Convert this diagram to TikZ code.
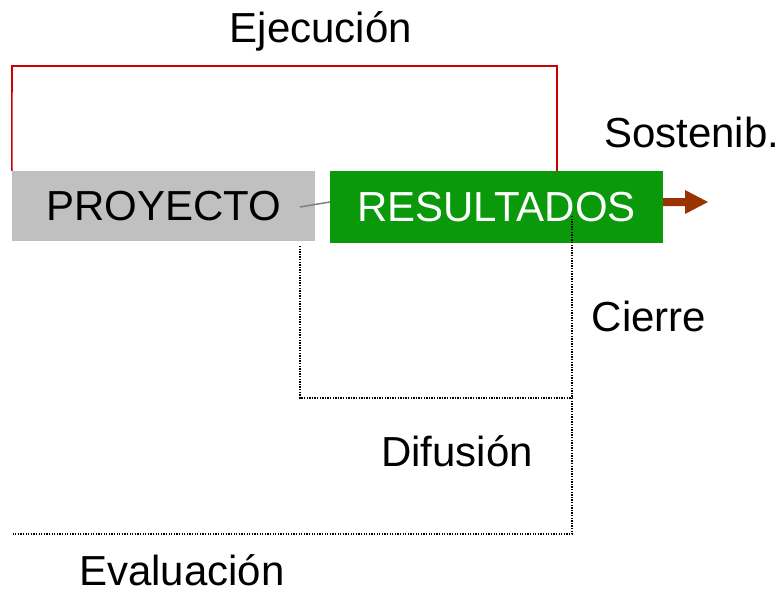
\documentclass[tikz,border=0pt]{standalone}
\usepackage{fontspec}
\setmainfont{Liberation Sans}
\definecolor{redline}{HTML}{CC0000}
\definecolor{boxgray}{HTML}{C0C0C0}
\definecolor{boxgreen}{HTML}{0A990A}
\definecolor{arrowbrown}{HTML}{993300}
\begin{document}
\begin{tikzpicture}[x=1pt,y=-1pt,
  lbl/.style={font=\fontsize{42}{48}\selectfont, inner sep=0pt, anchor=base},
  box/.style={rectangle, inner sep=0pt, font=\fontsize{42}{48}\selectfont},
  dots/.style={line width=1.3pt, dash pattern=on 1.3pt off 1.3pt},
]
\useasboundingbox (0,0) rectangle (780,590);
\node[box, fill=boxgray, minimum width=303pt, minimum height=70pt] (proy) at (163.5,206) {PROYECTO};
\node[box, fill=boxgreen, text=white, minimum width=333pt, minimum height=72pt] (res) at (496.5,207) {RESULTADOS};
% red bracket
\draw[redline, line width=1.6pt] (proy.north west) -- (12,66) -- (557,66) -- (557,171);
% connector
\coordinate (cstart) at (300,207);
\draw[gray, line width=1.5pt] (cstart) -- (res.west |- 0,202);
% arrow
\coordinate (aend) at (708,202);
\fill[arrowbrown] (res.east |- 0,198) -- (685,198) -- (685,190) -- (aend) -- (685,214) -- (685,206) -- (res.east |- 0,206) -- cycle;
% dotted lines
\draw[dots] (300,246) -- (300,398) -- (572,398);
\draw[dots] (572,216) -- (572,534) -- (12,534);
% labels
\node[lbl] (ej) at (321,42) {Ejecución};
\node[lbl, anchor=base west] (sos) at (604,147) {Sostenib.};
\node[lbl] (cie) at (649,331) {Cierre};
\node[lbl] (dif) at (457,466) {Difusión};
\node[lbl, text depth=0pt] (eva) at (182,585) {Evaluación};
\end{tikzpicture}
\end{document}
